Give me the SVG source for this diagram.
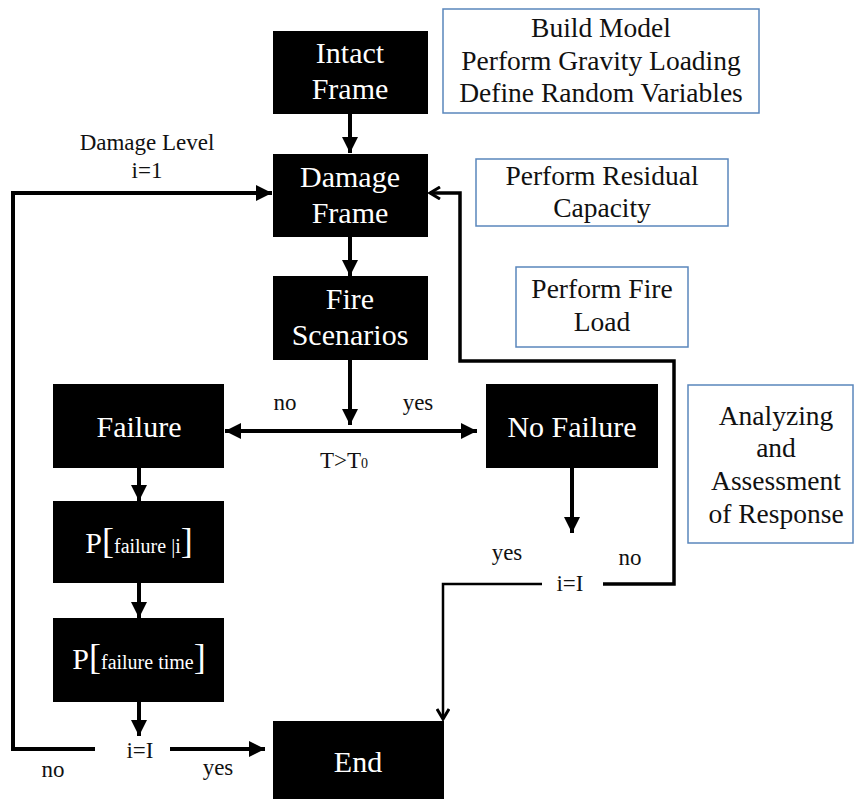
<svg xmlns="http://www.w3.org/2000/svg" width="854" height="799" viewBox="0 0 854 799" font-family="Liberation Serif, Times New Roman, Tinos, DejaVu Serif, serif">
<style>
.nb{fill:#000}
.nt{font-size:30px;fill:#fff;text-anchor:middle}
.bb{fill:#fff;stroke:#5a86bc;stroke-width:1.5}
.bt{font-size:27.5px;fill:#111;text-anchor:middle}
.lb{font-size:23px;fill:#111;text-anchor:middle}
.c{fill:none;stroke:#000;stroke-width:4;stroke-linejoin:miter}
.ct{fill:none;stroke:#000;stroke-width:2.5}
</style>
<defs>
<marker id="ah" markerUnits="userSpaceOnUse" markerWidth="18" markerHeight="16" refX="16" refY="8" orient="auto">
<path d="M0,0 L16,8 L0,16 Z" fill="#000"/>
</marker>
<marker id="av" markerUnits="userSpaceOnUse" markerWidth="14" markerHeight="14" refX="11" refY="7" orient="auto">
<path d="M1,1 L11,7 L1,13" fill="none" stroke="#000" stroke-width="3"/>
</marker>
</defs>

<g id="connectors">
<line class="c" x1="350" y1="114" x2="350" y2="153" marker-end="url(#ah)"/>
<line class="c" x1="350" y1="237" x2="350" y2="276" marker-end="url(#ah)"/>
<line class="c" x1="350" y1="360" x2="350" y2="425" marker-end="url(#ah)"/>
<line class="c" x1="350" y1="431" x2="225" y2="431" marker-end="url(#ah)"/>
<line class="c" x1="350" y1="431" x2="477" y2="431" marker-end="url(#ah)"/>
<line class="c" x1="139" y1="468" x2="139" y2="501" marker-end="url(#ah)"/>
<line class="c" x1="139" y1="583" x2="139" y2="618" marker-end="url(#ah)"/>
<line class="c" x1="139" y1="702" x2="139" y2="736" marker-end="url(#ah)"/>
<polyline class="c" points="95,749 13,749 13,193 272,193" marker-end="url(#ah)"/>
<line class="c" x1="170" y1="749" x2="265" y2="749" marker-end="url(#ah)"/>
<line class="c" x1="572" y1="468" x2="572" y2="533" marker-end="url(#ah)"/>
<polyline class="c" style="stroke-width:3.5" points="603,584 674,584 674,361 460,361 460,193 430,193" marker-end="url(#av)"/>
<polyline class="ct" points="542,584 443,584 443,719" marker-end="url(#av)"/>
</g>

<g id="intact"><rect class="nb" x="273" y="31" width="155" height="83"/>
<text class="nt" x="350" y="63">Intact</text><text class="nt" x="350" y="99">Frame</text></g>
<g id="damage"><rect class="nb" x="273" y="154" width="155" height="83"/>
<text class="nt" x="350" y="187">Damage</text><text class="nt" x="350" y="223">Frame</text></g>
<g id="fire"><rect class="nb" x="273" y="276" width="155" height="84"/>
<text class="nt" x="350" y="309">Fire</text><text class="nt" x="350" y="345">Scenarios</text></g>
<g id="failure"><rect class="nb" x="53" y="384" width="171" height="84"/>
<text class="nt" x="139" y="437">Failure</text></g>
<g id="nofailure"><rect class="nb" x="486" y="384" width="172" height="84"/>
<text class="nt" x="572" y="437">No Failure</text></g>
<g id="pfi"><rect class="nb" x="53" y="501" width="171" height="82"/>
<text class="nt" x="139" y="553"><tspan font-size="30">P</tspan><tspan font-size="36">[</tspan><tspan font-size="20">failure |i</tspan><tspan font-size="36">]</tspan></text></g>
<g id="pft"><rect class="nb" x="53" y="618" width="171" height="84"/>
<text class="nt" x="139" y="669"><tspan font-size="30">P</tspan><tspan font-size="36">[</tspan><tspan font-size="20">failure time</tspan><tspan font-size="36">]</tspan></text></g>
<g id="end"><rect class="nb" x="273" y="721" width="171" height="78"/>
<text class="nt" x="358" y="772">End</text></g>

<g id="box1"><rect class="bb" x="443" y="9" width="316" height="104"/>
<text class="bt" x="601" y="37">Build Model</text>
<text class="bt" x="601" y="70">Perform Gravity Loading</text>
<text class="bt" x="601" y="102">Define Random Variables</text></g>
<g id="box2"><rect class="bb" x="476" y="159" width="252" height="67"/>
<text class="bt" x="602" y="185">Perform Residual</text>
<text class="bt" x="602" y="217">Capacity</text></g>
<g id="box3"><rect class="bb" x="516" y="267" width="172" height="80"/>
<text class="bt" x="602" y="298">Perform Fire</text>
<text class="bt" x="602" y="331">Load</text></g>
<g id="box4"><rect class="bb" x="688" y="385" width="165" height="158"/>
<text class="bt" x="776" y="425">Analyzing</text>
<text class="bt" x="776" y="457">and</text>
<text class="bt" x="776" y="490">Assessment</text>
<text class="bt" x="776" y="523">of Response</text></g>

<g id="labels">
<text class="lb" x="147" y="150" font-size="24">Damage Level</text>
<text class="lb" x="147" y="178">i=1</text>
<text class="lb" x="285" y="410">no</text>
<text class="lb" x="418" y="410">yes</text>
<text class="lb" x="344" y="468">T&gt;T<tspan font-size="14">0</tspan></text>
<text class="lb" x="140" y="758">i=I</text>
<text class="lb" x="218" y="775">yes</text>
<text class="lb" x="53" y="777">no</text>
<text class="lb" x="507" y="560">yes</text>
<text class="lb" x="630" y="565">no</text>
<text class="lb" x="570" y="591">i=I</text>
</g>
</svg>
